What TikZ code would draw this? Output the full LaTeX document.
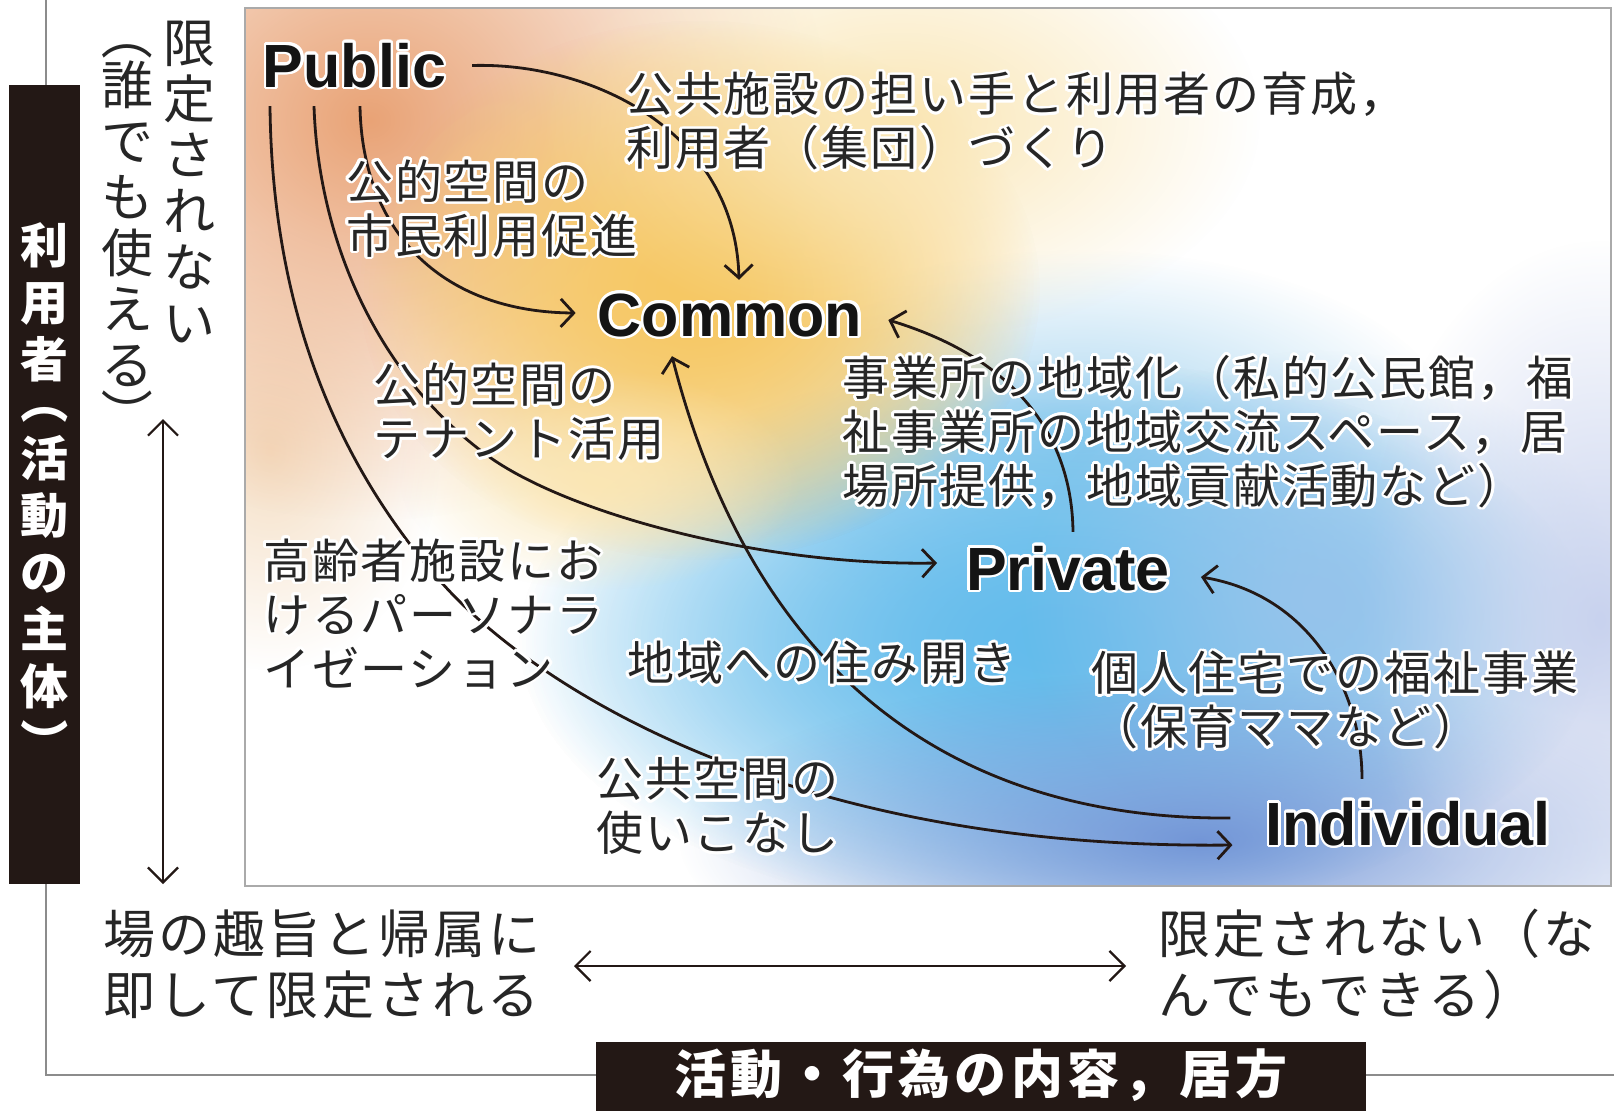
\documentclass[tikz,border=0pt]{standalone}
\usepackage{fontspec}
\usepackage{graphicx}
\usepackage[copies]{contour}
\usetikzlibrary{arrows.meta,calc,fadings}
\setmainfont{Liberation Sans}
\newfontfamily\jp{Noto Sans CJK JP}
\newfontfamily\jpl{Noto Sans CJK JP}[LetterSpace=4]
\newfontfamily\jpax{Noto Sans CJK JP}[LetterSpace=6]
\newfontfamily\jpbs{Noto Sans CJK JP}[LetterSpace=8]
\contourlength{2.6pt}
\contournumber{24}
\newcommand\hl[1]{\contour{white}{#1}}
\newcommand\vlp{\rotatebox[origin=c]{-90}{（}}
\newcommand\vrp{\rotatebox[origin=c]{-90}{）}}
\definecolor{ink}{RGB}{35,24,21}
\definecolor{txt}{RGB}{38,38,38}
\definecolor{keyc}{RGB}{20,20,20}
\definecolor{framec}{RGB}{140,140,140}
\definecolor{boxc}{RGB}{170,170,170}
\definecolor{cPeach}{RGB}{233,163,118}
\definecolor{cYel}{RGB}{246,200,100}
\definecolor{cPale}{RGB}{250,230,180}
\definecolor{cCream}{RGB}{245,222,195}
\definecolor{cBlue}{RGB}{100,188,236}
\definecolor{cBlueL}{RGB}{165,212,240}
\definecolor{cBlueR}{RGB}{150,195,235}
\definecolor{cDeep}{RGB}{115,150,215}
\definecolor{cLav}{RGB}{200,210,238}
\tikzfading[name=blob, inner color=transparent!0, outer color=transparent!100]
\begin{document}
\begin{tikzpicture}[x=1pt,y=-1pt,
  lab/.style={font=\jpl\fontsize{47}{54}\selectfont, text=txt, align=left, anchor=west, inner sep=0pt},
  key/.style={font=\bfseries\fontsize{61}{70}\selectfont, text=keyc, inner xsep=14pt, inner ysep=10pt, text height=44pt, text depth=0pt},
  conn/.style={draw=ink, line width=2.8pt, -{Straight Barb[length=13pt,width=28pt]}},
  axarrow/.style={draw=ink, line width=2.2pt, {Straight Barb[length=15pt,width=30pt]}-{Straight Barb[length=15pt,width=30pt]}},
  axt/.style={font=\jpax\fontsize{52}{61}\selectfont, text=txt, align=left, anchor=west, inner sep=0pt},
  vcol/.style={font=\jp\fontsize{52}{56}\selectfont, text=txt, align=center, anchor=north, inner sep=0pt},
  frameline/.style={draw=framec, line width=1.6pt},
  blob/.style={path fading=blob},
]
\useasboundingbox (0,0) rectangle (1618,1111);
\fill[white] (0,0) rectangle (1618,1111);

% outer L frame
\draw[frameline] (46,0) -- (46,1075) -- (1614,1075);

% gradient field
\begin{scope}
  \clip (245,8) rectangle (1611,886);
  \fill[white] (245,8) rectangle (1611,886);
  \fill[cBlueL, blob] (1080,440) ellipse [x radius=380, y radius=190];
  \fill[cBlue, blob] (1060,640) ellipse [x radius=540, y radius=280];
  \fill[cBlue, blob] (1060,640) ellipse [x radius=540, y radius=280];
  \fill[cBlueR, blob] (1320,600) ellipse [x radius=300, y radius=250];
  \fill[cDeep, blob] (1200,840) ellipse [x radius=520, y radius=170];
  \fill[cLav, blob] (1600,620) ellipse [x radius=240, y radius=380];
  \fill[cCream, blob] (270,450) ellipse [x radius=170, y radius=220];
  \fill[cPeach, blob] (370,120) ellipse [x radius=460, y radius=400];
  \fill[cYel, blob] (700,290) ellipse [x radius=340, y radius=270];
  \fill[cYel, blob] (700,290) ellipse [x radius=340, y radius=270];
  \fill[cPale, blob] (900,120) ellipse [x radius=360, y radius=220];
  \fill[cPale, blob] (600,480) ellipse [x radius=200, y radius=110];
\end{scope}
\draw[draw=boxc, line width=2pt] (245,8) rectangle (1611,886);

% black title boxes
\node[fill=ink, minimum width=71pt, minimum height=799pt, inner sep=0pt] (ybox) at (44.5,484.5) {};
\node[font=\jp\bfseries\fontsize{48}{57}\selectfont, text=white, align=center, anchor=north, inner sep=0pt] (ytitle) at (44.5,222)
  {利\\用\\者\\[-15pt]\vlp\\活\\動\\の\\主\\体\\\vrp};
\node[fill=ink, minimum width=770pt, minimum height=72pt, inner sep=0pt] (xbox) at (981,1078) {};
\node[font=\jpbs\bfseries\fontsize{52}{60}\selectfont, text=white, inner sep=0pt] (xtitle) at (981,1075) {活動・行為の内容，居方};

% axis texts
\node[vcol] (yt1) at (189,21) {限\\定\\さ\\れ\\な\\い};
\node[vcol] (yt2) at (127,8.5) {\vlp\\[-6pt]誰\\で\\も\\使\\え\\る\\[-6pt]\vrp};
\node[axt] (xl) at (103,964.5) {場の趣旨と帰属に\\即して限定される};
\node[axt] (xr) at (1158,964.5) {限定されない（な\\んでもできる）};

\coordinate (vtop) at (163,419);
\coordinate (vbot) at (163,884);
\draw[axarrow] (vtop) -- (vbot);
\coordinate (hl) at (574,966);
\coordinate (hr) at (1126,966);
\draw[axarrow] (hl) -- (hr);

% key nodes
\node[key] (public) at (354.5,65) {\hl{Public}};
\node[key] (common) at (730,314) {\hl{Common}};
\node[key] (private) at (1068,568) {\hl{Private}};
\node[key] (individual) at (1408,823) {\hl{Individual}};

% connectors
\draw[conn] ($(public.east)+(12,0.5)$) .. controls (590,62) and (735,130) .. ($(common.north)+(9,-2)$);
\draw[conn] ($(public.south)+(5.5,9)$) .. controls (362,230) and (440,312) .. ($(common.west)+(-8,-1)$);
\draw[conn] ($(public.south)+(-40.5,9)$) .. controls (318,230) and (370,370) .. (488,456)
   .. controls (567,513) and (760,566) .. ($(private.west)+(-15,-5)$);
\draw[conn] ($(public.south)+(-84.5,9)$) .. controls (272,300) and (331,458) .. (442,583)
   .. controls (530,682) and (780,850) .. ($(individual.west)+(-19,22)$);
\draw[conn] ($(individual.west)+(-21,-5)$) .. controls (980,820) and (760,700) .. ($(common.south)+(-58,10)$);
\draw[conn] ($(private.north)+(5,-4)$) .. controls (1072,440) and (1020,360) .. ($(common.east)+(12,6)$);
\draw[conn] ($(individual.north)+(-46,-12)$) .. controls (1362,690) and (1310,595) .. ($(private.east)+(17,9)$);

% labels
\node[lab] (l1) at (626,122.5) {\hl{公共施設の担い手と利用者の育成，}\\\hl{利用者（集団）づくり}};
\node[lab] (l2) at (346,209.5) {\hl{公的空間の}\\\hl{市民利用促進}};
\node[lab] (l3) at (373,413) {\hl{公的空間の}\\\hl{テナント活用}};
\node[lab] (l4) at (842,433) {\hl{事業所の地域化（私的公民館，福}\\\hl{祉事業所の地域交流スペース，居}\\\hl{場所提供，地域貢献活動など）}};
\node[lab] (l5) at (263,615) {\hl{高齢者施設にお}\\\hl{けるパーソナラ}\\\hl{イゼーション}};
\node[lab] (l6) at (627,664) {\hl{地域への住み開き}};
\node[lab] (l7) at (1091,701.5) {\hl{個人住宅での福祉事業}\\\hl{（保育ママなど）}};
\node[lab] (l8) at (596,807.5) {\hl{公共空間の}\\\hl{使いこなし}};
\end{tikzpicture}
\end{document}
